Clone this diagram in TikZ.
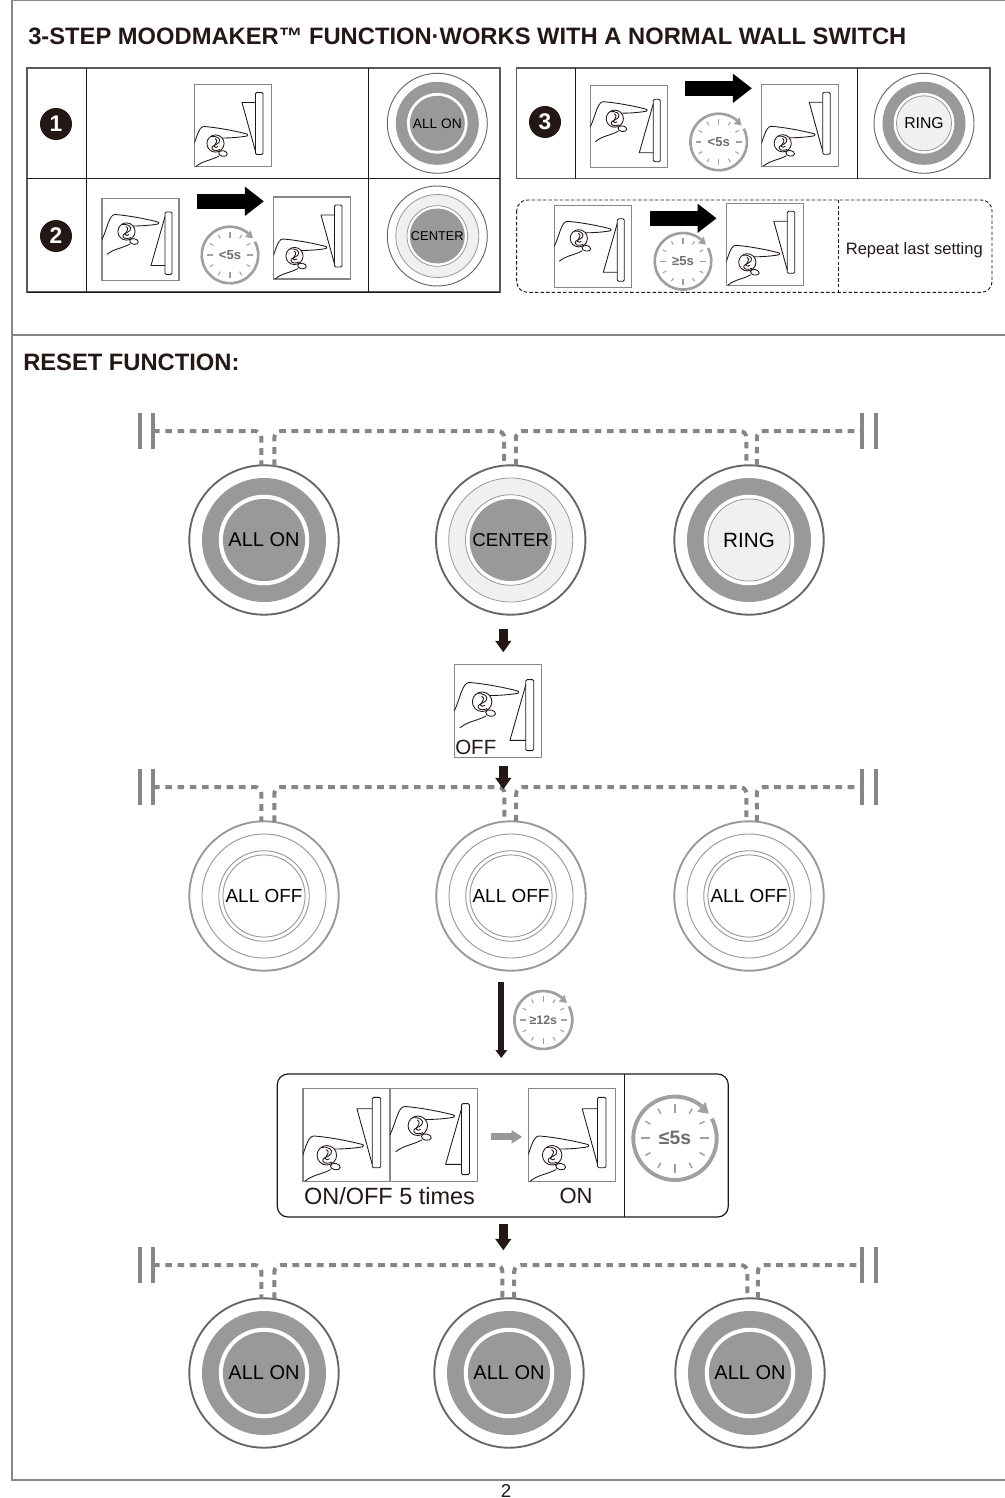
\documentclass[tikz,border=0pt]{standalone}
\usepackage{fontspec}
\setmainfont{Liberation Sans}
\usetikzlibrary{arrows.meta, calc}
\definecolor{ink}{HTML}{231815}
\definecolor{framegray}{HTML}{868686}
\definecolor{lampgray}{HTML}{999999}
\definecolor{lampdark}{HTML}{666666}
\definecolor{lamplight}{HTML}{f0f0f0}
\definecolor{clockgray}{HTML}{a0a0a0}
\definecolor{clocktext}{HTML}{6e6e6e}
\newcommand{\fs}[1]{\fontsize{#1}{#1}\selectfont}
\newcommand{\handshape}{
  \draw[swline] (0,41) .. controls (5,31) and (7,16) .. (13,16) .. controls (26,17) and (42,20) .. (54,23)
    .. controls (57,23.5) and (58,25) .. (56,25.5) .. controls (48,27) and (38,27.5) .. (31,27.5);
  \draw[swline] (24.5,33) circle (8.6);
  \draw[swline] (20,26) .. controls (25,25) and (31,28) .. (28,32) .. controls (25,35) and (20,35) .. (21,38) .. controls (22,41) and (27,40) .. (29,39);
  \draw[swline] (24,28) .. controls (28,30) and (24,33) .. (23,36) .. controls (24,37.5) and (26,37) .. (27,36);
  \draw[swline, rotate around={-10:(32,43)}] (32,43) ellipse [x radius=4.4, y radius=2.8];
  \draw[swline] (5,56) .. controls (12,50) and (20,50) .. (28,45.5);
}
\tikzset{
  swline/.style={line width=.65pt, ink, line join=round},
  swframe/.style={line width=.8pt, framegray},
  pics/swhigh/.style={code={
    \draw[swframe] (0,0) rectangle (77,82);
    \draw[swline, rounded corners=1pt] (63,13.5) rectangle (70,76);
    \draw[swline] (63,18) -- (49,67) -- (63,67);
    \handshape
    \coordinate (-n) at (38.5,0); \coordinate (-s) at (38.5,82);
    \coordinate (-e) at (77,41); \coordinate (-w) at (0,41);
  }},
  pics/swlow/.style={code={
    \draw[swframe] (0,0) rectangle (77,82);
    \draw[swline, rounded corners=1pt] (61,8) rectangle (68.5,70);
    \draw[swline] (61,18) -- (47.5,18) -- (61,67);
    \begin{scope}
      \clip (0,0) rectangle (77,82);
      \begin{scope}[shift={(-3.5,26)}]
        \handshape
      \end{scope}
    \end{scope}
    \coordinate (-n) at (38.5,0); \coordinate (-s) at (38.5,82);
    \coordinate (-e) at (77,41); \coordinate (-w) at (0,41);
  }},
  pics/timer/.style n args={3}{code={
    \draw[clockgray, line width=#1*.07pt] (-28:#1) arc[start angle=-28, end angle=310, radius=#1];
    \fill[clockgray] (310:.83*#1) -- (310:1.14*#1) -- (324:#1) -- cycle;
    \foreach \a in {0,90,180,270}
      \draw[clockgray, line width=#1*.03pt] (\a:.61*#1) -- (\a:.82*#1);
    \foreach \a in {30,60,120,150,210,240,300,330}
      \draw[clockgray, line width=#1*.027pt] (\a:.68*#1) -- (\a:.82*#1);
    \node[font=\bfseries\fs{#3}, text=clocktext, inner sep=0] (-txt) at (0,0) {#2};
  }},
}
\begin{document}
\begin{tikzpicture}[x=.75pt, y=-.75pt,
  lampbase/.style={circle, inner sep=0, outer sep=0, minimum size=#1*1.5pt, draw=lampdark, line width=1.4pt, text=black},
  lampon/.style={lampbase=#1, path picture={
    \fill[lampgray] (path picture bounding box.center) circle (.83*#1);
    \fill[white] (path picture bounding box.center) circle (.606*#1);
    \fill[lampgray] (path picture bounding box.center) circle (.55*#1);}},
  lampcenter/.style={lampbase=#1, path picture={
    \filldraw[fill=lamplight, draw=lampgray, line width=.6pt] (path picture bounding box.center) circle (.83*#1);
    \filldraw[fill=white, draw=lampgray, line width=.6pt] (path picture bounding box.center) circle (.606*#1);
    \fill[lampgray] (path picture bounding box.center) circle (.55*#1);}},
  lampring/.style={lampbase=#1, path picture={
    \fill[lampgray] (path picture bounding box.center) circle (.83*#1);
    \fill[white] (path picture bounding box.center) circle (.606*#1);
    \filldraw[fill=lamplight, draw=lampgray, line width=.6pt] (path picture bounding box.center) circle (.55*#1);}},
  lampoff/.style={lampbase=#1, draw=lampgray, path picture={
    \draw[lampgray, line width=.7pt] (path picture bounding box.center) circle (.83*#1);
    \draw[lampgray, line width=.7pt] (path picture bounding box.center) circle (.606*#1);
    \draw[lampgray, line width=.7pt] (path picture bounding box.center) circle (.55*#1);}},
  numdisc/.style={circle, fill=ink, text=white, inner sep=0, minimum size=24pt, font=\bfseries\fs{17}},
  tablebox/.style={line width=.9pt, draw=black!65},
  divider/.style={line width=.7pt, ink},
  bus/.style={line width=3pt, framegray, dash pattern=on 5pt off 4.2pt, rounded corners=5pt},
  busbar/.style={line width=3pt, framegray},
  frameline/.style={line width=2.2pt, framegray},
  bigarr/.style={line width=11.25pt, black, -{Triangle[length=14.25pt, width=21pt]}},
  dnarr/.style={line width=6.5pt, ink, -{Triangle[length=8.5pt, width=11.5pt]}},
  longarr/.style={line width=4.6pt, ink, -{Triangle[length=6pt, width=8.5pt]}},
  greyarr/.style={line width=5.25pt, lampgray, -{Triangle[length=8pt, width=9.5pt]}},
  label/.style={inner sep=0, text=ink}
]
  \path[fill=white, use as bounding box] (0,0) rectangle (1005,1498);
  \draw[frameline] (1005,0) -- (12,0) -- (12,1480) -- (1005,1480);
  \draw[frameline] (12,335) -- (1005,335);
  \node[label, anchor=base west, font=\bfseries\fs{17.8}] (title) at (28,45) {3-STEP MOODMAKER™ FUNCTION·WORKS WITH A NORMAL WALL SWITCH};
  \node[label, anchor=base west, font=\bfseries\fs{17.8}] (reset) at (23,370) {RESET FUNCTION:};

  \draw[tablebox] (27,68) rectangle (500,292);
  \draw[divider] (27,178) -- (500,178);
  \draw[divider] (27,292) -- (500,292);
  \draw[divider] (86.5,68) -- (86.5,292);
  \draw[divider] (368,68) -- (368,292);
  \draw[tablebox] (516.7,68) rectangle (990,178.7);
  \draw[divider] (575.3,68) -- (575.3,178.7);
  \draw[divider] (857.3,68) -- (857.3,178.7);
  \draw[line width=.7pt, ink, dash pattern=on 2.6pt off 1.6pt, rounded corners=8pt] (516.7,200) rectangle (992,292.3);
  \draw[line width=.7pt, ink, dash pattern=on 2.6pt off 1.6pt] (838.7,200) -- (838.7,292.3);

  \foreach \n/\x/\y in {1/56/124, 2/56/236, 3/545/122}
    \node[numdisc] (num\n) at (\x,\y) {\n};

  \pic (s1) at (194.5,84.5) {swlow};
  \pic (s2) at (102,198.5) {swhigh};
  \pic (s3) at (273.5,197) {swlow};
  \pic (s4) at (590.3,85.7) {swhigh};
  \pic (s5) at (761.7,84.3) {swlow};
  \pic (s6) at (554.3,205.3) {swhigh};
  \pic (s7) at (726.3,203.3) {swlow};

  \foreach \n/\x/\y in {2/197.3/201.3, 3/685.3/88.3, 4/650/218.3} {
    \coordinate (mv\n a) at (\x,\y);
    \coordinate (mv\n b) at (\x+66.6,\y);
    \draw[bigarr] (mv\n a) -- (mv\n b);
  }
  \pic (t1) at (230,255) {timer={28.3}{<5s}{9.8}};
  \pic (t2) at (718.7,142) {timer={28.3}{<5s}{9.8}};
  \pic (t3) at (683,261.3) {timer={28.3}{≥5s}{9.8}};

  \node[lampon=50, line width=.7pt, font=\fs{10.3}] (tl1) at (437.3,123.3) {ALL ON};
  \node[lampcenter=50, line width=.7pt, font=\fs{9.6}] (tl2) at (437.3,236) {CENTER};
  \node[lampring=50, line width=.7pt, font=\fs{11.8}] (tl3) at (924,123.3) {RING};
  \node[label, font=\fs{12.4}] (repeat) at (914.3,250.5) {Repeat last setting};

  \node[lampon=74.7, font=\fs{15}] (lA1) at (264,540) {ALL ON};
  \node[lampcenter=74.7, font=\fs{14}] (lA2) at (510.7,540) {CENTER};
  \node[lampring=74.7, font=\fs{15.5}] (lA3) at (749,540) {RING};
  \foreach \i/\x in {1/264, 2/511, 3/749}
    \node[lampoff=74.7, font=\fs{14.2}] (lB\i) at (\x,896) {ALL OFF};
  \foreach \i/\x in {1/264, 2/509, 3/750}
    \node[lampon=74.7, font=\fs{15}] (lC\i) at (\x,1373) {ALL ON};

  \foreach \row/\y in {A/431, B/787, C/1265} {
    \coordinate (lbar\row) at (153,\y);
    \coordinate (rbar\row) at (862,\y);
    \draw[bus] (lbar\row) -| (l\row1.92);
    \draw[bus] (l\row1.82) -- (l\row1.82 |- lbar\row) -- (l\row2.95 |- lbar\row) -- (l\row2.95);
    \draw[bus] (l\row2.86) -- (l\row2.86 |- lbar\row) -- (l\row3.92 |- lbar\row) -- (l\row3.92);
    \draw[bus] (l\row3.84) |- (rbar\row);
    \draw[busbar] ([yshift=13.7pt]lbar\row) -- ([yshift=-13.7pt]lbar\row);
    \draw[busbar] ([xshift=-9.75pt, yshift=13.7pt]lbar\row) -- ([xshift=-9.75pt, yshift=-13.7pt]lbar\row);
    \draw[busbar] ([yshift=13.7pt]rbar\row) -- ([yshift=-13.7pt]rbar\row);
    \draw[busbar] ([xshift=10.5pt, yshift=13.7pt]rbar\row) -- ([xshift=10.5pt, yshift=-13.7pt]rbar\row);
  }

  \pic[scale=1.135] (off) at (454.3,664.3) {swhigh};
  \node[label, anchor=base west, font=\fs{15.4}] (offtxt) at (455,754) {OFF};

  \coordinate (dnx) at (503.3,0);
  \draw[dnarr, shorten <=10.5pt, shorten >=9pt] (dnx |- lA2.south) -- (dnx |- off-n);
  \draw[dnarr, shorten <=6.75pt, shorten >=24pt] (dnx |- off-s) -- (dnx |- lB2.north);

  \draw[line width=.9pt, ink, rounded corners=8pt, fill=white] (277.3,1074) rectangle (728.3,1217);
  \coordinate (boxtop) at (501.3,1074);
  \coordinate (boxbot) at (503.3,1217);
  \draw[divider] (624,1074) -- (624,1217);
  \draw[longarr, shorten <=8.25pt, shorten >=12pt] (boxtop |- lB2.south) -- (boxtop);
  \draw[dnarr, shorten <=5.25pt, shorten >=36pt] (boxbot) -- (boxbot |- lC2.north);
  \pic (t4) at (543.3,1020) {timer={29}{≥12s}{9.3}};
  \pic[scale=1.135] (s8) at (303,1088.3) {swlow};
  \pic[scale=1.135] (s9) at (390,1088.3) {swhigh};
  \pic[scale=1.135] (s10) at (528.3,1088.3) {swlow};
  \draw[greyarr, shorten <=10pt, shorten >=4.5pt] ([yshift=-1.5pt]s9-e) -- ([yshift=-1.5pt]s10-w);
  \pic (t5) at (675,1138.3) {timer={41.7}{≤5s}{14.5}};
  \node[label, font=\fs{17.6}] (times) at (389.5,1196) {ON/OFF 5 times};
  \node[label, font=\fs{16.5}] (ontxt) at (576,1196) {ON};

  \node[label, anchor=base, font=\fs{14}] (page) at (506,1497) {2};
\end{tikzpicture}
\end{document}
